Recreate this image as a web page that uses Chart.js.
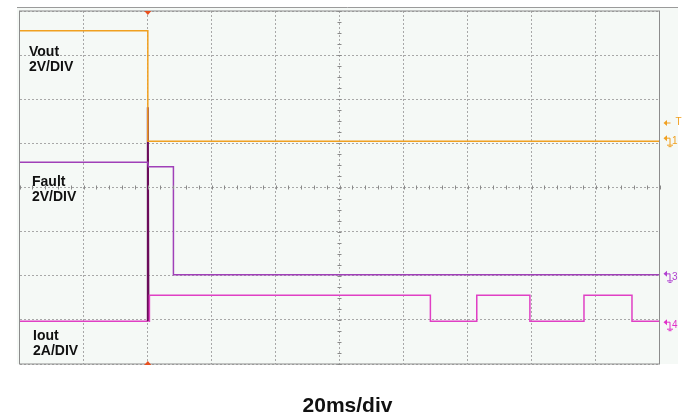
<!DOCTYPE html>
<html>
<head>
<meta charset="utf-8">
<script src="https://cdn.jsdelivr.net/npm/chart.js@4"></script>
<style>
  html, body { margin: 0; padding: 0; background: #fff; }
  #wrap { width: 693px; height: 417px; }
</style>
</head>
<body>
<div id="wrap"><canvas id="scope" width="693" height="417"></canvas></div>
<script>
// time in ms (20 ms/div, 10 div), level in divisions (0..8 from bottom)
const vTime  = [0, 40.1, 40.1, 200];
const vLevel = [7.55, 7.55, 5.05, 5.05];

const fTime  = [0, 40.1, 40.3, 48.1, 48.1, 200];
const fLevel = [4.57, 4.57, 4.47, 4.47, 2.02, 2.02];

const iTime  = [0, 40.1, 40.1, 40.3, 40.6, 40.6, 128.4, 128.4, 142.9, 142.9, 159.5, 159.5, 176.4, 176.4, 191.4, 191.4, 200];
const iLevel = [0.97, 0.97, 5.82, 0.97, 0.97, 1.56, 1.56, 0.97, 0.97, 1.56, 1.56, 0.97, 0.97, 1.56, 1.56, 0.97, 0.97];

const traceLabels = [
    { lines: ["Vout", "2V/DIV"], x: 29, y: 56 },
    { lines: ["Fault", "2V/DIV"], x: 32, y: 186 },
    { lines: ["Iout", "2A/DIV"], x: 33, y: 340 }
];
const timeBase = "20ms/div";

const FONT = "'Liberation Sans', Arial, sans-serif";
const pts = (t, v) => t.map((x, i) => ({ x: x, y: v[i] }));

// background, frame, crosshair ticks, markers and labels
const scopeDeco = {
    id: "scopeDeco",
    beforeDraw(chart) {
        const ctx = chart.ctx;
        ctx.save();
        ctx.fillStyle = "#f5f9f6";
        ctx.fillRect(17, 7, 661, 357);
        ctx.strokeStyle = "#9a9a9a";
        ctx.lineWidth = 1;
        ctx.beginPath();
        ctx.moveTo(17, 7.5);
        ctx.lineTo(678, 7.5);
        ctx.stroke();
        ctx.restore();
    },
    afterDraw(chart) {
        const ctx = chart.ctx;
        const a = chart.chartArea;
        const xs = chart.scales.x, ys = chart.scales.y;
        ctx.save();

        // minor ticks on the centre cross
        const cx = xs.getPixelForValue(100), cy = ys.getPixelForValue(4);
        ctx.strokeStyle = "#8a8a8a";
        ctx.lineWidth = 1;
        ctx.beginPath();
        for (let t = 0; t <= 200; t += 4) {
            const px = Math.round(xs.getPixelForValue(t)) + 0.5;
            ctx.moveTo(px, cy - 2); ctx.lineTo(px, cy + 2);
        }
        for (let v = 0; v <= 8; v += 0.25) {
            const py = Math.round(ys.getPixelForValue(v)) + 0.5;
            ctx.moveTo(cx - 2, py); ctx.lineTo(cx + 2, py);
        }
        ctx.stroke();

        // frame
        ctx.strokeStyle = "#8c8c8c";
        ctx.strokeRect(a.left, a.top, a.right - a.left, a.bottom - a.top);

        // trigger position markers
        const tx = xs.getPixelForValue(40.1);
        ctx.fillStyle = "#e8501e";
        ctx.beginPath();
        ctx.moveTo(tx - 3.5, a.top); ctx.lineTo(tx + 3.5, a.top); ctx.lineTo(tx, a.top + 4);
        ctx.fill();
        ctx.beginPath();
        ctx.moveTo(tx - 3.5, a.bottom + 1); ctx.lineTo(tx + 3.5, a.bottom + 1); ctx.lineTo(tx, a.bottom - 3);
        ctx.fill();

        // right-hand channel markers
        const mx = a.right + 4;
        const marker = (y, txt, col) => {
            ctx.strokeStyle = col; ctx.fillStyle = col; ctx.lineWidth = 1;
            ctx.beginPath();
            ctx.moveTo(mx, y); ctx.lineTo(mx + 3.5, y - 3); ctx.lineTo(mx + 3.5, y + 3); ctx.closePath();
            ctx.fill();
            ctx.beginPath();
            ctx.moveTo(mx + 3, y); ctx.lineTo(mx + 6.5, y);
            ctx.moveTo(mx + 6.5, y); ctx.lineTo(mx + 6.5, y + 7);
            ctx.moveTo(mx + 3.5, y + 7); ctx.lineTo(mx + 9.5, y + 7);
            ctx.moveTo(mx + 5, y + 8.5); ctx.lineTo(mx + 8, y + 8.5);
            ctx.stroke();
            ctx.font = "10px " + FONT;
            ctx.textBaseline = "middle";
            ctx.fillText(txt, mx + 8.5, y + 3);
        };
        ctx.fillStyle = "#f0a020"; ctx.strokeStyle = "#f0a020";
        ctx.beginPath();
        ctx.moveTo(mx, 123); ctx.lineTo(mx + 3.5, 120); ctx.lineTo(mx + 3.5, 126); ctx.closePath(); ctx.fill();
        ctx.beginPath(); ctx.moveTo(mx + 3, 123); ctx.lineTo(mx + 7, 123); ctx.stroke();
        ctx.font = "10px " + FONT; ctx.textBaseline = "middle";
        ctx.fillText("T", mx + 12, 122);
        marker(ys.getPixelForValue(vLevel[vLevel.length - 1]) - 3, "1", "#f0a020");
        marker(ys.getPixelForValue(fLevel[fLevel.length - 1]) - 1, "3", "#b040d0");
        marker(ys.getPixelForValue(iLevel[iLevel.length - 1]) + 1, "4", "#e030c8");

        // trace labels
        ctx.fillStyle = "#111";
        ctx.textBaseline = "alphabetic";
        ctx.textAlign = "left";
        ctx.font = "bold 14px " + FONT;
        traceLabels.forEach(l => {
            l.lines.forEach((s, i) => ctx.fillText(s, l.x, l.y + i * 15));
        });

        // time base caption
        ctx.font = "bold 21px " + FONT;
        ctx.textAlign = "center";
        ctx.fillText(timeBase, 347.5, 412);
        ctx.restore();
    }
};

const isSpike = c => c.p0.parsed.x >= 40 && c.p1.parsed.x <= 40.35 && c.p1.parsed.x > 40;

new Chart(document.getElementById("scope").getContext("2d"), {
    type: "line",
    data: {
        datasets: [
            {
                label: "Vout",
                data: pts(vTime, vLevel),
                borderColor: "#f0a020",
                borderWidth: 1.5,
                pointRadius: 0,
                tension: 0
            },
            {
                label: "Fault",
                data: pts(fTime, fLevel),
                borderColor: "#a040b8",
                borderWidth: 1.5,
                pointRadius: 0,
                tension: 0
            },
            {
                label: "Iout",
                data: pts(iTime, iLevel),
                borderColor: "#e040c4",
                borderWidth: 1.5,
                pointRadius: 0,
                tension: 0,
                segment: {
                    borderColor: c => (c.p0.parsed.x === c.p1.parsed.x && c.p1.parsed.y > 3) || isSpike(c) ? "#6a0c5a" : undefined,
                    borderWidth: c => (c.p0.parsed.x === c.p1.parsed.x && c.p1.parsed.y > 3) || isSpike(c) ? 2 : undefined
                }
            }
        ]
    },
    options: {
        responsive: false,
        animation: false,
        layout: { padding: { left: 19.5, top: 11, right: 33.5, bottom: 53 } },
        plugins: { legend: { display: false }, tooltip: { enabled: false } },
        scales: {
            x: {
                type: "linear",
                min: 0, max: 200,
                ticks: { display: false, stepSize: 20 },
                grid: { color: "#a8a8a8", drawTicks: false, lineWidth: 1 },
                border: { display: false, dash: [2, 2] }
            },
            y: {
                min: 0, max: 8,
                ticks: { display: false, stepSize: 1 },
                grid: { color: "#a8a8a8", drawTicks: false, lineWidth: 1 },
                border: { display: false, dash: [2, 2] }
            }
        }
    },
    plugins: [scopeDeco]
});
</script>
</body>
</html>
